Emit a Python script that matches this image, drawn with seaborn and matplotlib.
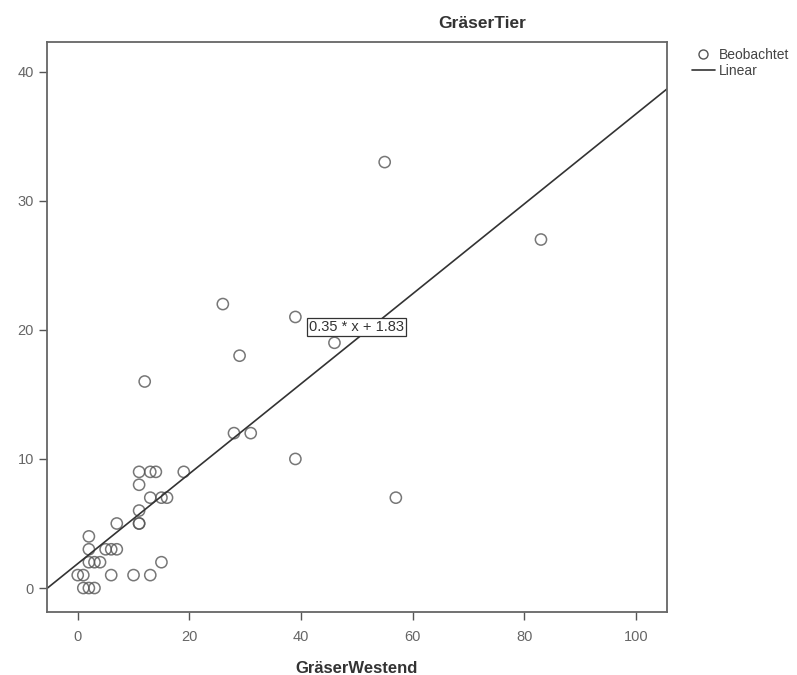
import numpy as np
import pandas as pd
import matplotlib
matplotlib.use("Agg")
import matplotlib.pyplot as plt
import seaborn as sns
from matplotlib.lines import Line2D

# values
westend = [55, 83, 26, 39, 29, 46, 12, 28, 31, 39, 57, 19, 11, 13, 14,
           11, 13, 15, 16, 11, 11, 11, 7, 2, 2, 5, 6, 7, 2, 3, 4, 15,
           0, 1, 6, 10, 13, 1, 2, 3]
tier = [33, 27, 22, 21, 18, 19, 16, 12, 12, 10, 7, 9, 9, 9, 9,
        8, 7, 7, 7, 6, 5, 5, 5, 4, 3, 3, 3, 3, 2, 2, 2, 2,
        1, 1, 1, 1, 1, 0, 0, 0]
fit_label = "0.35 * x + 1.83"
x_ticks = [0, 20, 40, 60, 80, 100]
y_ticks = [0, 10, 20, 30, 40]

df = pd.DataFrame({"GräserWestend": westend, "GräserTier": tier})

sns.set_style("white")
plt.rcParams["font.family"] = ["Liberation Sans", "DejaVu Sans"]

fig = plt.figure(figsize=(7.97, 6.75), dpi=100)
ax = fig.add_axes([0.059, 0.0933, 0.778, 0.8444])
ax.set_xlim(-5.5, 105.6)
ax.set_ylim(-1.86, 42.3)

grey = "#555555"
sns.regplot(data=df, x="GräserWestend", y="GräserTier", ax=ax, ci=None,
            truncate=False,
            scatter_kws=dict(s=65, facecolors="none", edgecolors=grey, linewidths=1.1),
            line_kws=dict(color="#333333", linewidth=1.2))

ax.set_xticks(x_ticks)
ax.set_yticks(y_ticks)
ax.tick_params(axis="both", direction="out", length=6, width=1, color=grey,
               labelcolor="#666666", labelsize=10.5, bottom=True, left=True)
ax.tick_params(axis="x", pad=7)
for sp in ax.spines.values():
    sp.set_color("#666666")
    sp.set_linewidth(1.3)

ax.set_ylabel("")
ax.set_xlabel("GräserWestend", fontsize=12, fontweight="bold", color="#333333", labelpad=12)
fig.text(0.605, 0.965, "GräserTier", ha="center", va="center", fontsize=12.5,
         fontweight="bold", color="#333333")

ax.text(41.4, 20.2, fit_label, ha="left", va="center", fontsize=10.5, color="#333333",
        bbox=dict(boxstyle="square,pad=0.15", facecolor="white", edgecolor="#333333", linewidth=0.9))

handles = [Line2D([], [], marker="o", linestyle="none", markerfacecolor="none",
                  markeredgecolor=grey, markersize=6.5),
           Line2D([], [], color="#333333", linewidth=1.2)]
fig.legend(handles, ["Beobachtet", "Linear"], loc="upper left",
           bbox_to_anchor=(0.853, 0.947), frameon=False, fontsize=10,
           handlelength=1.6, handletextpad=0.3, labelspacing=0.1, labelcolor="#444444")

fig.savefig("out.png", dpi=100)
